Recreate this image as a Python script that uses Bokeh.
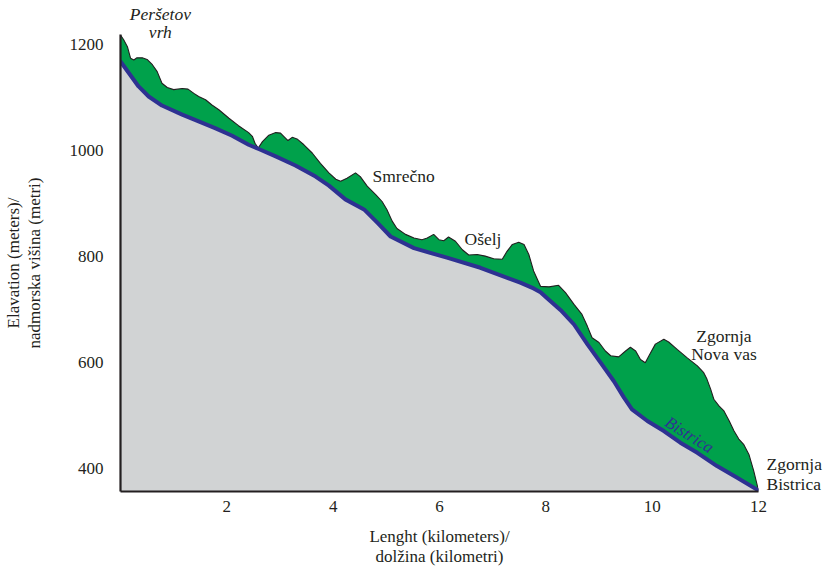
from bokeh.plotting import figure
from bokeh.models import Range1d, Label, FixedTicker, LinearAxis
from bokeh.embed import file_html
from bokeh.resources import INLINE

# ---------------- data ----------------
terrain_km = [0.0, 0.06, 0.13, 0.19, 0.25, 0.31, 0.41, 0.50, 0.60, 0.69, 0.78, 0.88, 1.00, 1.16, 1.27,
              1.38, 1.47, 1.60, 1.72, 1.85, 2.04, 2.22, 2.41, 2.48, 2.53, 2.59, 2.67, 2.79, 2.92, 3.01,
              3.07, 3.15, 3.23, 3.32, 3.45, 3.61, 3.76, 3.92, 4.05, 4.14, 4.26, 4.42, 4.51, 4.64, 4.80,
              4.92, 5.01, 5.11, 5.20, 5.36, 5.52, 5.67, 5.77, 5.89, 5.99, 6.08, 6.17, 6.30, 6.43, 6.55,
              6.71, 6.86, 7.02, 7.18, 7.27, 7.37, 7.49, 7.59, 7.68, 7.77, 7.90, 8.06, 8.24, 8.37, 8.53,
              8.68, 8.78, 8.87, 9.00, 9.12, 9.22, 9.37, 9.50, 9.59, 9.69, 9.78, 9.87, 9.94, 10.06, 10.22,
              10.31, 10.47, 10.66, 10.85, 10.97, 11.03, 11.10, 11.16, 11.26, 11.35, 11.45, 11.54, 11.63,
              11.72, 11.82, 11.91, 12.0]
terrain_m = [1218, 1209, 1196, 1174, 1171, 1175, 1175, 1172, 1162, 1149, 1127, 1119, 1115, 1117, 1116,
             1108, 1102, 1096, 1086, 1077, 1061, 1047, 1034, 1027, 1014, 1005, 1017, 1029, 1034, 1033,
             1027, 1019, 1025, 1022, 1011, 995, 976, 958, 946, 942, 948, 958, 951, 933, 917,
             904, 889, 867, 853, 842, 835, 832, 835, 842, 832, 830, 837, 829, 813, 803,
             804, 801, 796, 795, 810, 823, 827, 823, 804, 773, 744, 743, 746, 732, 710,
             691, 669, 647, 638, 622, 613, 611, 622, 629, 622, 606, 600, 613, 635, 644,
             639, 625, 609, 594, 581, 569, 550, 531, 518, 509, 490, 471, 456,
             446, 427, 396, 359]

river_km = [0.0, 0.16, 0.34, 0.53, 0.78, 1.16, 1.47, 1.79, 2.10, 2.41, 2.60, 2.92, 3.29, 3.67, 3.92,
            4.23, 4.58, 4.83, 5.08, 5.52, 6.14, 6.77, 7.52, 7.77, 7.90, 8.02, 8.28, 8.53, 8.78, 9.03,
            9.28, 9.47, 9.62, 9.91, 10.22, 10.53, 10.85, 11.22, 11.60, 12.0]
river_m = [1168, 1146, 1121, 1102, 1085, 1068, 1055, 1042, 1028, 1011, 1003, 989, 972, 951, 934,
           908, 889, 864, 838, 816, 798, 779, 751, 740, 733, 722, 699, 672, 635, 600,
           565, 534, 512, 490, 471, 449, 430, 405, 383, 359]

x_ticks = [2, 4, 6, 8, 10, 12]
y_ticks = [400, 600, 800, 1000, 1200]
X_VIEW = (0, 12)
Y_VIEW = (357, 1219)

# names placed outside the plot area (shown as labels of extra axes)
peak_km = [0.75]
peak_name = {0.75: "Peršetov\nvrh"}
end_m = [409, 371]
end_name = {409: "Zgornja", 371: "Bistrica"}

# names placed inside the plot area: text, km, m, align
places = [
    ("Smrečno", 4.74, 953, "left"),
    ("Ošelj", 6.47, 833, "left"),
    ("Zgornja", 11.35, 650, "center"),
    ("Nova vas", 11.35, 616, "center"),
]
river_name = ("Bistrica", 10.70, 464)

# ---------------- style ----------------
FONT = "'Liberation Serif', 'DejaVu Serif', serif"
INK = "#231f20"
GREEN = "#00a14b"
GREY = "#d1d3d4"
NAVY = "#2e3192"

p = figure(width=829, height=573, title=None,
           min_border_left=120, min_border_right=71, min_border_top=33, min_border_bottom=82,
           x_range=Range1d(*X_VIEW), y_range=Range1d(*Y_VIEW),
           output_backend="svg", toolbar_location=None)

main_x = p.xaxis[0]
main_y = p.yaxis[0]

p.grid.visible = False
p.outline_line_color = None
p.background_fill_color = "white"

p.patch(x=terrain_km + river_km[::-1], y=terrain_m + river_m[::-1],
        fill_color=GREEN, line_color=None)
p.varea(x=river_km, y1=Y_VIEW[0], y2=river_m, fill_color=GREY)
p.line(x=terrain_km, y=terrain_m, line_color=INK, line_width=1.1)
p.line(x=river_km, y=river_m, line_color=NAVY, line_width=4, line_join="round", line_cap="round")

top_ax = LinearAxis(ticker=FixedTicker(ticks=peak_km), major_label_overrides=peak_name,
                    major_label_standoff=-13, major_label_text_font_style="italic",
                    major_label_text_line_height=0.9)
right_ax = LinearAxis(ticker=FixedTicker(ticks=end_m), major_label_overrides=end_name,
                      major_label_standoff=2)
p.add_layout(top_ax, "above")
p.add_layout(right_ax, "right")

for ax in (top_ax, right_ax):
    ax.axis_line_color = None
    ax.major_tick_line_color = None
    ax.minor_tick_line_color = None
    ax.major_label_text_font = FONT
    ax.major_label_text_font_size = "17.5px"
    ax.major_label_text_color = INK

for ax in (main_x, main_y):
    ax.axis_line_color = INK
    ax.axis_line_width = 2.2
    ax.major_tick_line_color = None
    ax.minor_tick_line_color = None
    ax.major_label_text_font = FONT
    ax.major_label_text_font_size = "17px"
    ax.major_label_text_color = INK
    ax.axis_label_text_font = FONT
    ax.axis_label_text_font_size = "17px"
    ax.axis_label_text_font_style = "normal"
    ax.axis_label_text_color = INK
    ax.axis_label_text_line_height = 1.1

main_x.ticker = FixedTicker(ticks=x_ticks)
main_y.ticker = FixedTicker(ticks=y_ticks)
main_x.major_label_standoff = 3
main_y.major_label_standoff = 11
main_x.axis_label = "Lenght (kilometers)/\ndolžina (kilometri)"
main_y.axis_label = "Elavation (meters)/\nnadmorska višina (metri)"
main_x.axis_label_standoff = 12
main_y.axis_label_standoff = 23

for text, xk, ym, align in places:
    p.add_layout(Label(x=xk, y=ym, text=text, text_font=FONT, text_font_size="17.5px",
                       text_color=INK, text_align=align, text_baseline="middle"))

p.add_layout(Label(x=river_name[1], y=river_name[2], text=river_name[0], text_font=FONT,
                   text_font_size="17px", text_color=NAVY, text_align="center",
                   text_baseline="middle", text_font_style="italic",
                   angle=-32, angle_units="deg"))

open("out.html", "w").write(file_html(p, INLINE))
